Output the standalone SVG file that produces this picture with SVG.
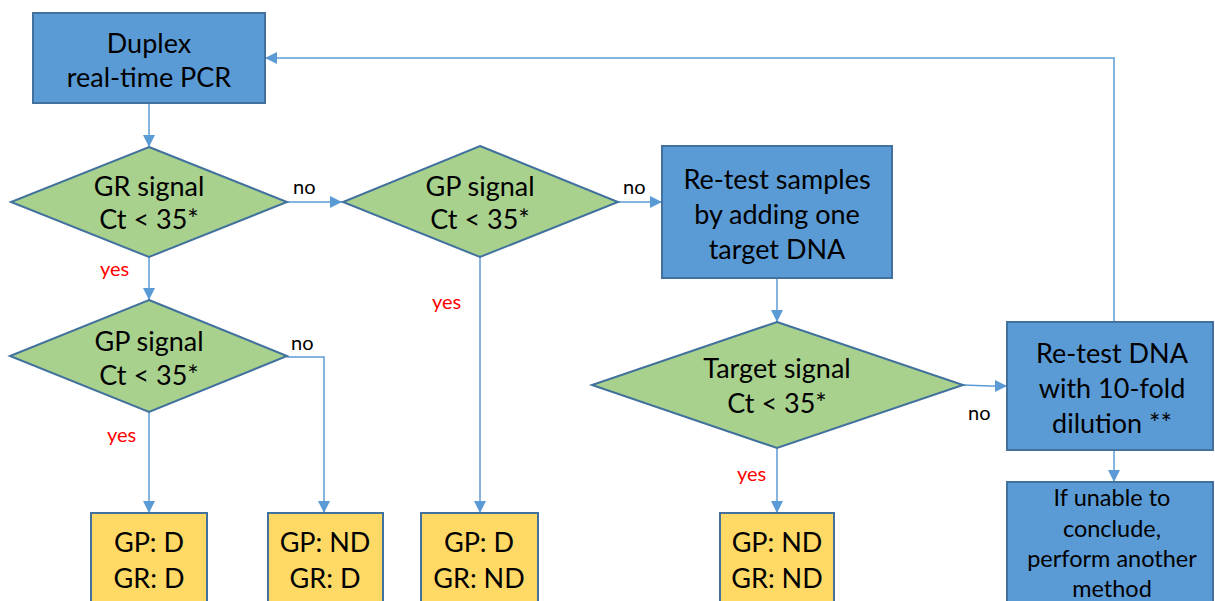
<svg xmlns="http://www.w3.org/2000/svg" width="1215" height="601" viewBox="0 0 1215 601">
  <style>
    .proc { fill: #5b9bd5; stroke: #41719c; stroke-width: 2; }
    .dec { fill: #a9d18e; stroke: #41719c; stroke-width: 2; }
    .res { fill: #ffd966; stroke: #41719c; stroke-width: 2; }
    .t { font-family: Lato, "Liberation Sans", sans-serif; font-size: 27px; fill: #000; text-anchor: middle; dominant-baseline: central; }
    .ts { font-family: Lato, "Liberation Sans", sans-serif; font-size: 23.5px; fill: #000; text-anchor: middle; dominant-baseline: central; }
    .no { font-family: Lato, "Liberation Sans", sans-serif; font-size: 20px; fill: #000; }
    .yes { font-family: Lato, "Liberation Sans", sans-serif; font-size: 20px; fill: #ff0000; }
    .c { fill: none; stroke: #5b9bd5; stroke-width: 1.5; marker-end: url(#ah); }
  </style>
  <defs>
    <marker id="ah" markerUnits="userSpaceOnUse" markerWidth="13" markerHeight="12" refX="12" refY="6" orient="auto">
      <path d="M0,0 L12,6 L0,12 z" fill="#5b9bd5"/>
    </marker>
  </defs>
  <rect width="1215" height="601" fill="#ffffff"/>

  <!-- connectors -->
  <g id="connectors">
    <path class="c" d="M149,103 V147"/>
    <path class="c" d="M287,202 H342"/>
    <path class="c" d="M149,257 V300"/>
    <path class="c" d="M618,202 H662"/>
    <path class="c" d="M149,412 V513"/>
    <path class="c" d="M287,357 H324 V513"/>
    <path class="c" d="M480,257 V513"/>
    <path class="c" d="M777,278 V322"/>
    <path class="c" d="M777,448 V513"/>
    <path class="c" d="M963,385 L990,386 H1007"/>
    <path class="c" d="M1114,450 V482"/>
    <path class="c" d="M1114,322 V58 H265"/>
    <text class="no" x="293" y="194">no</text>
    <text class="no" x="623" y="194">no</text>
    <text class="no" x="291" y="350">no</text>
    <text class="no" x="968" y="420">no</text>
    <text class="yes" x="100" y="276">yes</text>
    <text class="yes" x="432" y="309">yes</text>
    <text class="yes" x="107" y="442">yes</text>
    <text class="yes" x="737" y="481">yes</text>
  </g>

  <g id="duplex">
    <rect class="proc" x="33" y="13" width="232" height="90"/>
    <text class="t" x="149" y="42">Duplex</text>
    <text class="t" x="149" y="76">real-time PCR</text>
  </g>

  <g id="gr-signal">
    <polygon class="dec" points="149,147 287,202 149,257 11,202"/>
    <text class="t" x="149" y="185">GR signal</text>
    <text class="t" x="149" y="218">Ct &lt; 35*</text>
  </g>

  <g id="gp-signal-a">
    <polygon class="dec" points="149,300 287,356 149,412 10,356"/>
    <text class="t" x="149" y="340">GP signal</text>
    <text class="t" x="149" y="374">Ct &lt; 35*</text>
  </g>

  <g id="gp-signal-b">
    <polygon class="dec" points="480,146 618,202 480,257 343,202"/>
    <text class="t" x="480" y="185">GP signal</text>
    <text class="t" x="480" y="218">Ct &lt; 35*</text>
  </g>

  <g id="retest-samples">
    <rect class="proc" x="662" y="146" width="230" height="132"/>
    <text class="t" x="777" y="178">Re-test samples</text>
    <text class="t" x="777" y="213">by adding one</text>
    <text class="t" x="777" y="248">target DNA</text>
  </g>

  <g id="target-signal">
    <polygon class="dec" points="777,322 963,385 777,448 592,385"/>
    <text class="t" x="777" y="367">Target signal</text>
    <text class="t" x="777" y="402">Ct &lt; 35*</text>
  </g>

  <g id="retest-dna">
    <rect class="proc" x="1007" y="322" width="206" height="128"/>
    <text class="t" x="1112" y="352">Re-test DNA</text>
    <text class="t" x="1112" y="387">with 10-fold</text>
    <text class="t" x="1112" y="422">dilution **</text>
  </g>

  <g id="other-method">
    <rect class="proc" x="1007" y="482" width="206" height="130"/>
    <text class="ts" x="1112" y="497">If unable to</text>
    <text class="ts" x="1112" y="528">conclude,</text>
    <text class="ts" x="1112" y="558">perform another</text>
    <text class="ts" x="1112" y="588">method</text>
  </g>

  <g id="gp-d-gr-d">
    <rect class="res" x="91" y="513" width="116" height="100"/>
    <text class="t" x="149" y="541">GP: D</text>
    <text class="t" x="149" y="577">GR: D</text>
  </g>

  <g id="gp-nd-gr-d">
    <rect class="res" x="268" y="513" width="115" height="100"/>
    <text class="t" x="325" y="541">GP: ND</text>
    <text class="t" x="325" y="577">GR: D</text>
  </g>

  <g id="gp-d-gr-nd">
    <rect class="res" x="421" y="513" width="117" height="100"/>
    <text class="t" x="479" y="541">GP: D</text>
    <text class="t" x="479" y="577">GR: ND</text>
  </g>

  <g id="gp-nd-gr-nd">
    <rect class="res" x="720" y="513" width="114" height="100"/>
    <text class="t" x="777" y="541">GP: ND</text>
    <text class="t" x="777" y="577">GR: ND</text>
  </g>
</svg>
